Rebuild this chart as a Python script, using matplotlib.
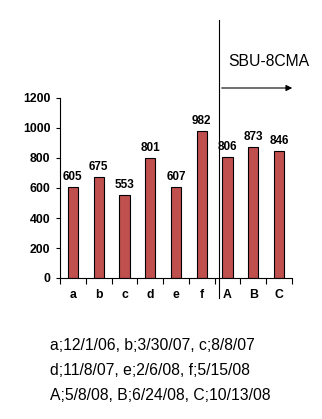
import matplotlib
matplotlib.use("Agg")
import matplotlib.pyplot as plt
import numpy as np

categories = ["a", "b", "c", "d", "e", "f", "A", "B", "C"]
values = [605, 675, 553, 801, 607, 982, 806, 873, 846]
y_ticks = [0, 200, 400, 600, 800, 1000, 1200]
divider_label = "SBU-8CMA"
date_lines = [
    "a;12/1/06, b;3/30/07, c;8/8/07",
    "d;11/8/07, e;2/6/08, f;5/15/08",
    "A;5/8/08, B;6/24/08, C;10/13/08",
]

W, H = 322, 419
fig = plt.figure(figsize=(W / 100, H / 100), dpi=100)
fig.patch.set_facecolor("white")

ax = fig.add_axes([60 / W, 1 - 278 / H, 232 / W, 180 / H])
x = np.arange(len(categories))
ax.bar(x, values, width=0.4, color="#C0504D", edgecolor="black", linewidth=0.8)

for xi, v in zip(x, values):
    ax.annotate(str(v), (xi, v), xytext=(0, 3), textcoords="offset points",
                ha="center", va="bottom", fontsize=8.5, fontweight="bold",
                family="Liberation Sans")

ax.set_xlim(-0.5, len(categories) - 0.5)
ax.set_ylim(0, 1200)
ax.set_yticks(y_ticks)
ax.set_xticks(x)
ax.set_xticklabels(categories)
ax.set_xticks(np.arange(-0.5, len(categories), 1.0), minor=True)
ax.tick_params(axis="x", which="major", length=0, pad=8)
ax.tick_params(axis="x", which="minor", length=4, width=0.8, direction="out")
ax.tick_params(axis="y", length=3, width=0.8, direction="out", pad=4)
for lab in ax.get_xticklabels() + ax.get_yticklabels():
    lab.set_fontsize(8.8)
    lab.set_fontweight("bold")
    lab.set_family("Liberation Sans")

for side in ["top", "right"]:
    ax.spines[side].set_visible(False)
for side in ["left", "bottom"]:
    ax.spines[side].set_linewidth(0.8)

# divider line and arrow (figure pixel coords)
line_x = 219 / W
fig.add_artist(plt.Line2D([line_x, line_x], [1 - 20 / H, 1 - 298 / H],
                          color="black", linewidth=0.8))
fig.add_artist(matplotlib.patches.FancyArrowPatch(
    (line_x, 1 - 88 / H), (295 / W, 1 - 88 / H),
    arrowstyle="-|>", mutation_scale=9, color="black", linewidth=0.8))
fig.text(228 / W, 1 - 62 / H, divider_label, ha="left", va="center",
         fontsize=11.3, family="Liberation Sans")

for i, line in enumerate(date_lines):
    fig.text(50 / W, 1 - (345 + 25 * i) / H, line, ha="left", va="center",
             fontsize=11.3, family="Liberation Sans")

fig.savefig("out.png", dpi=100, facecolor="white")
